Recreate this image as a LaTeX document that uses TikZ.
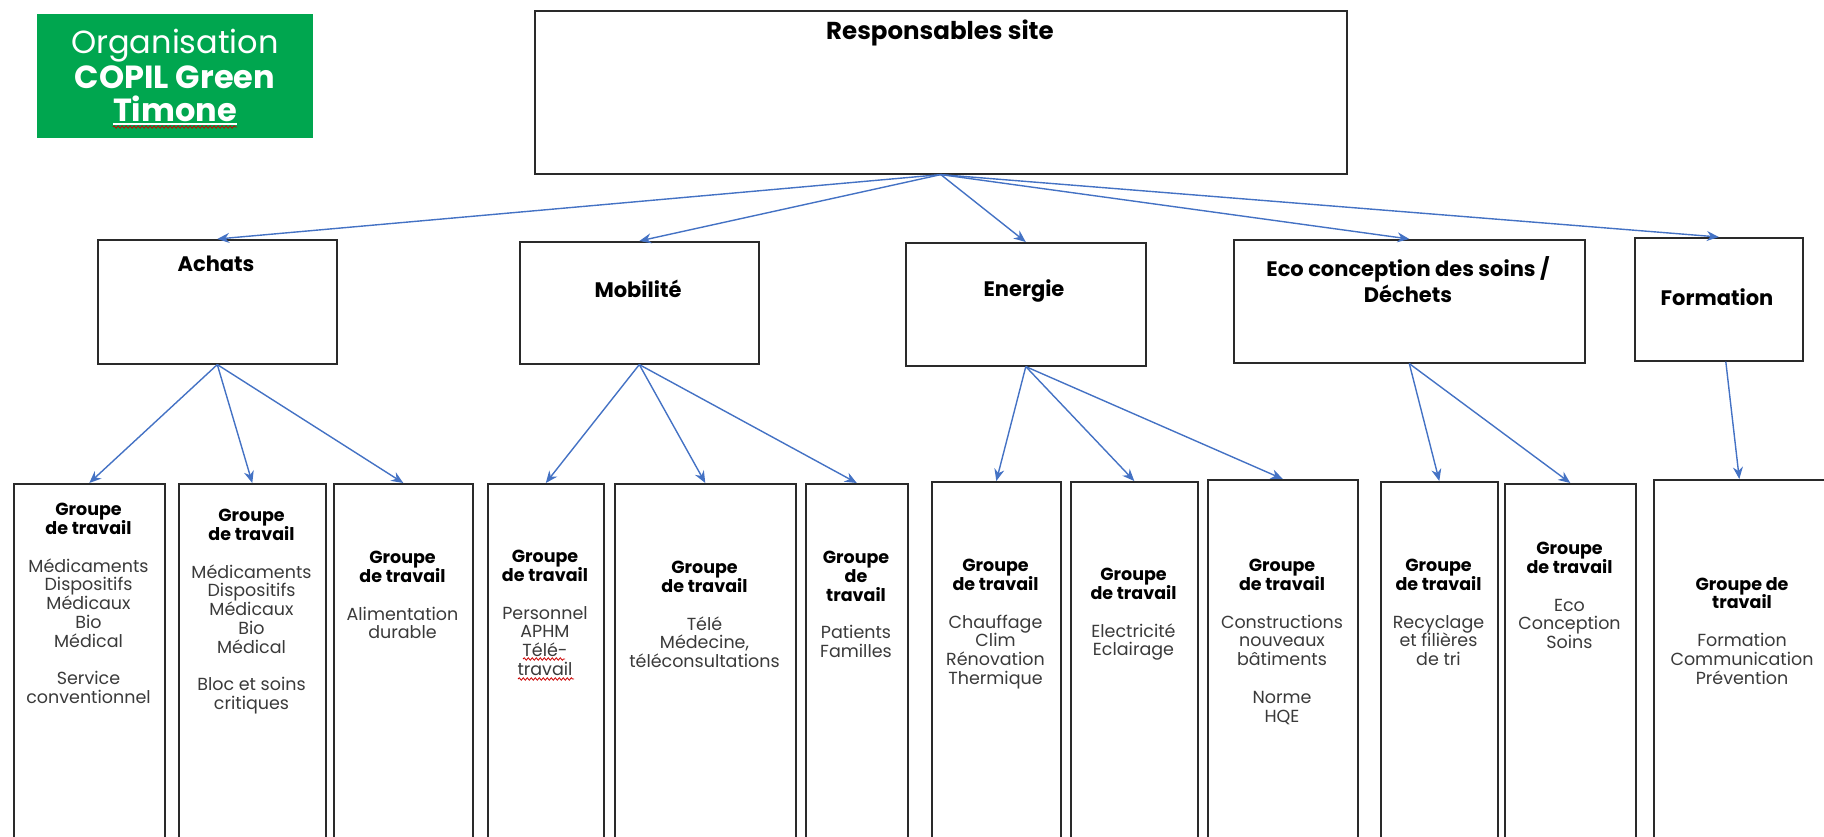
\documentclass[tikz,border=0pt]{standalone}
\usepackage{fontspec}
\setmainfont{Poppins}
\usetikzlibrary{arrows.meta,decorations.pathmorphing}
\definecolor{copilgreen}{HTML}{00A64F}
\definecolor{linkblue}{HTML}{4472C4}
\definecolor{framegrey}{HTML}{2A2A2A}
\definecolor{bodygrey}{HTML}{3A3A3A}
\newcommand{\ghead}[1]{\textcolor{black}{\bfseries #1}}
\begin{document}
\begin{tikzpicture}[x=1pt,y=-1pt,
  frame/.style={draw=framegrey,line width=1.6pt,fill=white,inner sep=0pt,anchor=north west},
  link/.style={draw=linkblue,line width=1.4pt,-{Stealth[length=12pt,width=10pt]}},
  head/.style={font=\fontsize{21}{26}\selectfont\bfseries,text=black,align=center,inner sep=0pt},
  gtext/.style={font=\fontsize{17.5}{18.8}\selectfont,text=bodygrey,align=center,inner sep=0pt,anchor=north},
  logo/.style={font=\fontsize{32}{34}\selectfont,text=white,inner sep=0pt,anchor=base},
  spell/.style={draw=red!80!black,line width=0.8pt,decorate,decoration={snake,amplitude=1.2pt,segment length=4pt}}]
\useasboundingbox (0,0) rectangle (1824,836);

% title badge
\node[fill=copilgreen,inner sep=0pt,minimum width=276pt,minimum height=124pt,anchor=north west] (badge) at (37,14) {};
\node[logo] (org1) at (175,53) {Organisation};
\node[logo] (org2) at (175,88) {\bfseries COPIL Green};
\node[logo] (org3) at (175,121) {\bfseries Timone};
\draw[white,line width=1.6pt] ([yshift=-3pt]org3.base west) -- ([yshift=-3pt]org3.base east);
\draw[spell] ([yshift=-6pt]org3.base west) -- ([yshift=-6pt]org3.base east);

% top level
\node[frame,minimum width=812pt,minimum height=163pt] (resp) at (534,10) {};
\node[head,font=\fontsize{24.5}{28}\selectfont\bfseries] (respt) at (940,33) {Responsables site};

% second level
\node[frame,minimum width=239pt,minimum height=124pt] (achats) at (97,239) {};
\node[frame,minimum width=239pt,minimum height=122pt] (mob) at (519,241) {};
\node[frame,minimum width=240pt,minimum height=123pt] (energ) at (905,242) {};
\node[frame,minimum width=351pt,minimum height=123pt] (eco) at (1233,239) {};
\node[frame,minimum width=168pt,minimum height=123pt] (form) at (1634,237) {};
\node[head] (achatst) at (216,264) {Achats};
\node[head] (mobt) at (638,289) {Mobilité};
\node[head] (energt) at (1024,291) {Energie};
\node[head] (ecot) at (1408,280) {Eco conception des soins /\\Déchets};
\node[head] (formt) at (1717,297) {Formation};

% working groups
\node[frame,minimum width=151pt,minimum height=420pt] (a1) at (13,483) {};
\node[frame,minimum width=147pt,minimum height=420pt] (a2) at (178,483) {};
\node[frame,minimum width=139pt,minimum height=420pt] (a3) at (333,483) {};
\node[frame,minimum width=116pt,minimum height=420pt] (m1) at (487,483) {};
\node[frame,minimum width=181pt,minimum height=420pt] (m2) at (614,483) {};
\node[frame,minimum width=102pt,minimum height=420pt] (m3) at (805,483) {};
\node[frame,minimum width=129pt,minimum height=420pt] (e1) at (931,481) {};
\node[frame,minimum width=127pt,minimum height=420pt] (e2) at (1070,481) {};
\node[frame,minimum width=150pt,minimum height=420pt] (e3) at (1207,479) {};
\node[frame,minimum width=117pt,minimum height=420pt] (d1) at (1380,481) {};
\node[frame,minimum width=131pt,minimum height=420pt] (d2) at (1504,483) {};
\node[frame,minimum width=171pt,minimum height=420pt] (f1) at (1653,479) {};

\node[gtext] (a1t) at (88.5,503) {\ghead{Groupe}\\\ghead{de travail}\\[18.8pt]Médicaments\\Dispositifs\\Médicaux\\Bio\\Médical\\[18.8pt]Service\\conventionnel};
\node[gtext] (a2t) at (251.5,509) {\ghead{Groupe}\\\ghead{de travail}\\[18.8pt]Médicaments\\Dispositifs\\Médicaux\\Bio\\Médical\\[18.8pt]Bloc et soins\\critiques};
\node[gtext] (a3t) at (402.5,551) {\ghead{Groupe}\\\ghead{de travail}\\[18.8pt]Alimentation\\durable};
\node[gtext] (m1t) at (545,550) {\ghead{Groupe}\\\ghead{de travail}\\[18.8pt]Personnel\\APHM\\Télé-\\travail};
\node[gtext] (m2t) at (704.5,561) {\ghead{Groupe}\\\ghead{de travail}\\[18.8pt]Télé\\Médecine,\\téléconsultations};
\node[gtext] (m3t) at (856,551) {\ghead{Groupe}\\\ghead{de}\\\ghead{travail}\\[18.8pt]Patients\\Familles};
\node[gtext] (e1t) at (995.5,559) {\ghead{Groupe}\\\ghead{de travail}\\[18.8pt]Chauffage\\Clim\\Rénovation\\Thermique};
\node[gtext] (e2t) at (1133.5,568) {\ghead{Groupe}\\\ghead{de travail}\\[18.8pt]Electricité\\Eclairage};
\node[gtext] (e3t) at (1282,559) {\ghead{Groupe}\\\ghead{de travail}\\[18.8pt]Constructions\\nouveaux\\bâtiments\\[18.8pt]Norme\\HQE};
\node[gtext] (d1t) at (1438.5,559) {\ghead{Groupe}\\\ghead{de travail}\\[18.8pt]Recyclage\\et filières\\de tri};
\node[gtext] (d2t) at (1569.5,542) {\ghead{Groupe}\\\ghead{de travail}\\[18.8pt]Eco\\Conception\\Soins};
\node[gtext] (f1t) at (1742,577) {\ghead{Groupe de}\\\ghead{travail}\\[18.8pt]Formation\\Communication\\Prévention};

% spelling marks under the tele-work words
\draw[spell] (523,659) -- (565,659);
\draw[spell] (518,679) -- (574,679);

% connectors
\draw[link] (resp.south) -- (achats.north);
\draw[link] (resp.south) -- (mob.north);
\draw[link] (resp.south) -- (energ.north);
\draw[link] (resp.south) -- (eco.north);
\draw[link] (resp.south) -- (form.north);

\draw[link] (achats.south) -- (a1.north);
\draw[link] (achats.south) -- (a2.north);
\draw[link] (achats.south) -- (a3.north);
\draw[link] (mob.south) -- (m1.north);
\draw[link] (mob.south) -- (m2.north);
\draw[link] (mob.south) -- (m3.north);
\draw[link] (energ.south) -- (e1.north);
\draw[link] (energ.south) -- (e2.north);
\draw[link] (energ.south) -- (e3.north);
\draw[link] (eco.south) -- (d1.north);
\draw[link] (eco.south) -- (d2.north);
\draw[link] ([xshift=7pt]form.south) -- (f1.north);
\end{tikzpicture}
\end{document}
